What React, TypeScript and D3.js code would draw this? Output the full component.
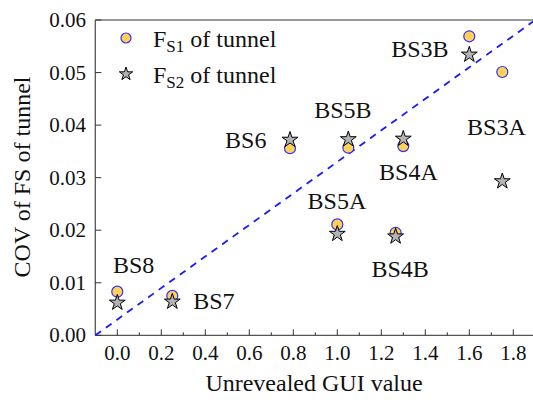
import React from "react";
import * as d3 from "d3";

// Unrevealed GUI value for each case
const cases = ["BS8", "BS7", "BS6", "BS5B", "BS4A", "BS3B", "BS3A", "BS5A", "BS4B"];
const guiValues = [0.0, 0.25, 0.785, 1.05, 1.3, 1.6, 1.75, 1.0, 1.265];
// COV of factor of safety
const covFs1 = [0.0083, 0.0075, 0.0356, 0.0357, 0.036, 0.0569, 0.0501, 0.0211, 0.0195];
const covFs2 = [0.0062, 0.0064, 0.0372, 0.0373, 0.0374, 0.0534, 0.0293, 0.0193, 0.0188];

const xTicks = [0, 0.2, 0.4, 0.6, 0.8, 1.0, 1.2, 1.4, 1.6, 1.8];
const xMinorTicks = [0.1, 0.3, 0.5, 0.7, 0.9, 1.1, 1.3, 1.5, 1.7];
const yTicks = [0, 0.01, 0.02, 0.03, 0.04, 0.05, 0.06];

// label anchor points given in data units (label left edge, baseline)
const labelX = [-0.02, 0.345, 0.49, 0.895, 1.19, 1.245, 1.59, 0.865, 1.155];
const labelY = [0.0118, 0.005, 0.0357, 0.0413, 0.0296, 0.0529, 0.0381, 0.0241, 0.0111];

const W = 533;
const H = 400;
const FONT = "Liberation Serif, Times New Roman, DejaVu Serif, serif";

export default function App() {
  const x = d3.scaleLinear().domain([-0.1, 1.9]).range([95.3, 535.3]);
  const y = d3.scaleLinear().domain([0, 0.06]).range([335.3, 20]);
  const star = d3.symbol().type(d3.symbolStar).size(78)();
  const starSmall = d3.symbol().type(d3.symbolStar).size(55)();
  const [x0, x1] = x.range();
  const [yb, yt] = y.range();
  const line = d3.line<[number, number]>().x((d) => x(d[0])).y((d) => y(d[1]));
  const ts = { fontFamily: FONT } as React.CSSProperties;

  return (
    <svg
      width={W}
      height={H}
      style={{ position: "absolute", left: 0, top: 0, background: "#fff", fontFamily: FONT }}
    >
      {/* frame */}
      <line x1={x0} x2={x1} y1={yt} y2={yt} stroke="#777" strokeWidth={1.3} />
      <line x1={x0} x2={x0} y1={yt} y2={yb} stroke="#555" strokeWidth={1.3} />
      <line x1={x0} x2={x1} y1={yb} y2={yb} stroke="#555" strokeWidth={1.3} />

      {/* x ticks */}
      {xTicks.map((t) => (
        <g key={"xt" + t}>
          <line x1={x(t)} x2={x(t)} y1={yb} y2={yb - 6} stroke="#333" strokeWidth={1} />
          <text x={x(t)} y={360} textAnchor="middle" fontSize={21} fill="#111" style={ts}>
            {t.toFixed(1)}
          </text>
        </g>
      ))}
      {xMinorTicks.map((t) => (
        <line key={"xm" + t} x1={x(t)} x2={x(t)} y1={yb} y2={yb - 3} stroke="#333" strokeWidth={1} />
      ))}

      {/* y ticks */}
      {yTicks.map((t) => (
        <g key={"yt" + t}>
          <line x1={x0} x2={x0 + 6} y1={y(t)} y2={y(t)} stroke="#333" strokeWidth={1} />
          <text x={86} y={y(t) + 7} textAnchor="end" fontSize={21} fill="#111" style={ts}>
            {t.toFixed(2)}
          </text>
        </g>
      ))}

      {/* axis titles */}
      <text x={314} y={391} textAnchor="middle" fontSize={24} fill="#111" style={ts}>
        Unrevealed GUI value
      </text>
      <text
        transform={`translate(30,${177}) rotate(-90)`}
        textAnchor="middle"
        fontSize={24}
        fill="#111"
        style={ts}
      >
        COV of FS of tunnel
      </text>

      {/* 1:1 reference line */}
      <path
        d={line([[-0.1, 0], [1.9, 0.06]]) || ""}
        fill="none"
        stroke="#1a1aff"
        strokeWidth={1.8}
        strokeDasharray="7,6"
      />

      {/* FS1 points */}
      {guiValues.map((g, i) => (
        <circle key={"c" + i} cx={x(g)} cy={y(covFs1[i])} r={5.5} fill="#ffd257" stroke="#2f2fff" strokeWidth={1.2} />
      ))}
      {/* FS2 points */}
      {guiValues.map((g, i) => (
        <path
          key={"s" + i}
          d={star}
          transform={`translate(${x(g)},${y(covFs2[i])})`}
          fill="#b3b3b3"
          stroke="#000"
          strokeWidth={1}
        />
      ))}

      {/* case labels */}
      {cases.map((c, i) => (
        <text key={"l" + c} x={x(labelX[i])} y={y(labelY[i])} fontSize={24} fill="#111" style={ts}>
          {c}
        </text>
      ))}

      {/* legend */}
      <circle cx={126} cy={38} r={5} fill="#ffd257" stroke="#2f2fff" strokeWidth={1.2} />
      <text x={153} y={47} fontSize={24} fill="#111" style={ts}>
        F<tspan fontSize={17} dy={5}>S1</tspan>
        <tspan dy={-5}> of tunnel</tspan>
      </text>
      <path d={starSmall} transform="translate(126,74)" fill="#b3b3b3" stroke="#000" strokeWidth={1} />
      <text x={153} y={83} fontSize={24} fill="#111" style={ts}>
        F<tspan fontSize={17} dy={5}>S2</tspan>
        <tspan dy={-5}> of tunnel</tspan>
      </text>
    </svg>
  );
}
